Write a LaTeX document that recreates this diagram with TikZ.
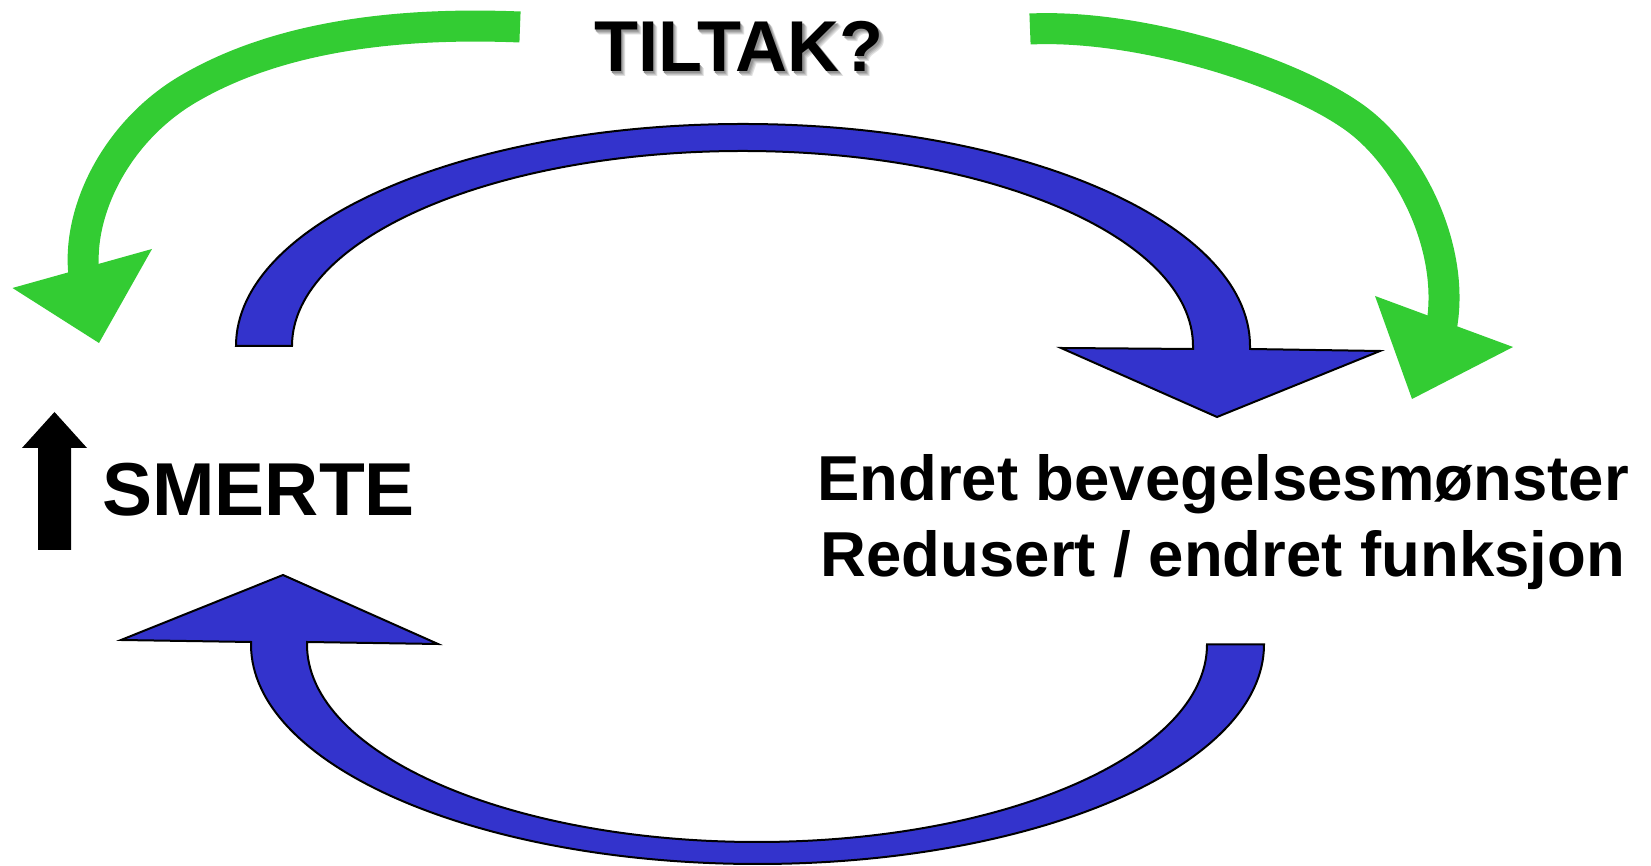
\documentclass[tikz,border=0pt]{standalone}
\usepackage{fontspec}
\setmainfont{Liberation Sans}
\definecolor{loopblue}{RGB}{51,51,204}
\definecolor{hintgreen}{RGB}{51,204,51}
% text with a soft grey drop shadow, built from stacked offset copies
\newcommand\shadowlayer[2]{\rlap{\kern#1pt\raisebox{-#1pt}{\color{black!#2}TILTAK?}}}
\newcommand\shadowedtitle{\leavevmode
  \shadowlayer{4.5}{12}\shadowlayer{3.5}{22}\shadowlayer{2.5}{32}\shadowlayer{1.5}{42}TILTAK?}
\tikzset{
  loopfill/.style={fill=loopblue, draw=black, line width=2pt, line join=miter},
  hintline/.style={draw=hintgreen, line width=31pt, line cap=butt},
  hinthead/.style={fill=hintgreen},
  lbl/.style={inner sep=0pt, outer sep=0pt, anchor=base, text=black},
}
\begin{document}
\begin{tikzpicture}[x=1pt, y=1pt]
\useasboundingbox (0,0) rectangle (1651,866);

% title
\node[lbl, font=\bfseries\fontsize{72}{72}\selectfont] (tiltak) at (739,794) {\shadowedtitle};

% left-hand state
\node[lbl, font=\bfseries\fontsize{75}{75}\selectfont] (smerte) at (258.7,350) {SMERTE};
\fill (38,316) -- (38,418) -- (22,418) -- (54.5,454) -- (87,418) -- (71,418) -- (71,316) -- cycle;

% right-hand state
\node[lbl, font=\bfseries\fontsize{63.5}{63.5}\selectfont] (endret) at (1223,365) {Endret bevegelsesmønster};
\node[lbl, font=\bfseries\fontsize{63.5}{63.5}\selectfont] (redusert) at (1223,289) {Redusert / endret funksjon};

% upper loop arrow: pain -> changed movement
\draw[loopfill] (236,520) arc[start angle=180, end angle=0, x radius=507, y radius=222]
  -- (1250,517) -- (1380,515) -- (1217,449) -- (1061,518) -- (1193,517) -- (1193,520)
  arc[start angle=0, end angle=180, x radius=450.5, y radius=195] -- cycle;

% lower loop arrow: changed function -> pain
\draw[loopfill] (1264,221.5) arc[start angle=0, end angle=-180, x radius=506.5, y radius=219.5]
  -- (251,224) -- (121,226) -- (283,291) -- (438,222) -- (307,224) -- (307,221.5)
  arc[start angle=180, end angle=360, x radius=450, y radius=197.5] -- cycle;

% green intervention arrows from the title
\draw[hintline] (520,839) .. controls (420,843) and (290,836) .. (190,778)
  .. controls (110,732) and (70,640) .. (87,575);
\fill[hinthead] (12.5,578) -- (99,523) -- (152,617) -- cycle;

\draw[hintline] (1030,837) .. controls (1140,842) and (1290,795) .. (1355,748)
  .. controls (1413,706) and (1458,610) .. (1440,532);
\fill[hinthead] (1375,570) -- (1412,467) -- (1513,519) -- cycle;
\end{tikzpicture}
\end{document}
